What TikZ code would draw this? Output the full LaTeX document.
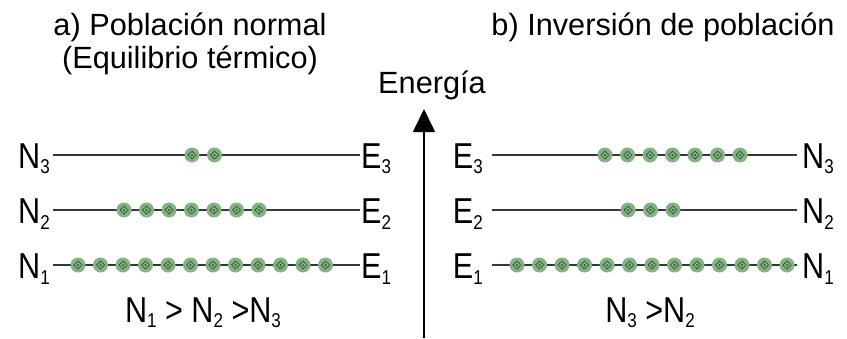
\documentclass[tikz,border=0pt]{standalone}
\usepackage{fontspec}
\setmainfont{Liberation Sans}
\newfontfamily\levelfont[FakeStretch=0.85]{Liberation Sans}
\usepackage{tikz}
\usetikzlibrary{positioning,arrows.meta}
\definecolor{atomfill}{RGB}{132,178,132}
\definecolor{atomdark}{RGB}{30,75,30}
\definecolor{levelgray}{RGB}{55,55,55}
\newcommand{\lv}[2]{#1\raisebox{-0.15em}{\fontsize{20}{20}\selectfont #2}}

\begin{document}
\begin{tikzpicture}[
    x=1pt, y=-1pt,
    >={Triangle[width=22pt,length=23pt]},
    title/.style={font=\fontsize{30.7}{33}\selectfont, inner sep=0pt, align=center},
    lbl/.style={font=\levelfont\fontsize{36}{36}\selectfont, inner sep=0pt},
    level/.style={draw=levelgray, line width=2.6pt},
    atom/.style={circle, fill=atomfill, minimum size=15pt, inner sep=0pt,
        path picture={\draw[atomdark, line width=0.9pt, dash pattern=on 1pt off 0.7pt]
            (path picture bounding box.center) ++(0,-4) -- ++(4,4) -- ++(-4,4) -- ++(-4,-4) -- cycle;
            \fill[atomdark] (path picture bounding box.center) circle (1pt);}}
]
\useasboundingbox (0,0) rectangle (847,338);

\node[title, anchor=north] (titlea) at (190,13) {a) Población normal\\(Equilibrio térmico)};
\node[title, anchor=north] (titleb) at (663,13) {b) Inversión de población};
\node[title, anchor=base] (energia) at (432,93) {Energía};

\coordinate (axbot) at (424,338);
\coordinate (axtop) at (424,109);
\draw[->, line width=1.6pt] (axbot) -- (axtop);

\coordinate (a3w) at (53,155);  \coordinate (a3e) at (360,155);
\coordinate (a2w) at (53,210);  \coordinate (a2e) at (360,210);
\coordinate (a1w) at (53,265);  \coordinate (a1e) at (360,265);
\coordinate (b3w) at (492,155); \coordinate (b3e) at (797,155);
\coordinate (b2w) at (492,210); \coordinate (b2e) at (797,210);
\coordinate (b1w) at (492,265); \coordinate (b1e) at (797,265);

\draw[level] (a3w) -- (a3e);
\draw[level] (a2w) -- (a2e);
\draw[level] (a1w) -- (a1e);
\draw[level] (b3w) -- (b3e);
\draw[level] (b2w) -- (b2e);
\draw[level] (b1w) -- (b1e);

\node[lbl, left=3pt of a3w, yshift=-4pt] (na3) {\lv{N}{3}};
\node[lbl, left=3pt of a2w, yshift=-4pt] (na2) {\lv{N}{2}};
\node[lbl, left=3pt of a1w, yshift=-4pt] (na1) {\lv{N}{1}};
\node[lbl, right=1pt of a3e, yshift=-4pt] (ea3) {\lv{E}{3}};
\node[lbl, right=1pt of a2e, yshift=-4pt] (ea2) {\lv{E}{2}};
\node[lbl, right=1pt of a1e, yshift=-4pt] (ea1) {\lv{E}{1}};
\node[lbl, left=9pt of b3w, yshift=-4pt] (eb3) {\lv{E}{3}};
\node[lbl, left=9pt of b2w, yshift=-4pt] (eb2) {\lv{E}{2}};
\node[lbl, left=9pt of b1w, yshift=-4pt] (eb1) {\lv{E}{1}};
\node[lbl, right=5pt of b3e, yshift=-4pt] (nb3) {\lv{N}{3}};
\node[lbl, right=5pt of b2e, yshift=-4pt] (nb2) {\lv{N}{2}};
\node[lbl, right=5pt of b1e, yshift=-4pt] (nb1) {\lv{N}{1}};

\foreach \i in {0,1} \node[atom] (pa3-\i) at (192+22.5*\i,155) {};
\foreach \i in {0,...,6} \node[atom] (pa2-\i) at (124+22.5*\i,210) {};
\foreach \i in {0,...,11} \node[atom] (pa1-\i) at (78+22.5*\i,265) {};
\foreach \i in {0,...,6} \node[atom] (pb3-\i) at (605+22.5*\i,155) {};
\foreach \i in {0,1,2} \node[atom] (pb2-\i) at (628+22.5*\i,210) {};
\foreach \i in {0,...,12} \node[atom] (pb1-\i) at (517+22.5*\i,265) {};

\node[lbl, anchor=base] (ordera) at (203,322) {\lv{N}{1} > \lv{N}{2} >\lv{N}{3}};
\node[lbl, anchor=base] (orderb) at (650,322) {\lv{N}{3} >\lv{N}{2}};

\end{tikzpicture}
\end{document}
